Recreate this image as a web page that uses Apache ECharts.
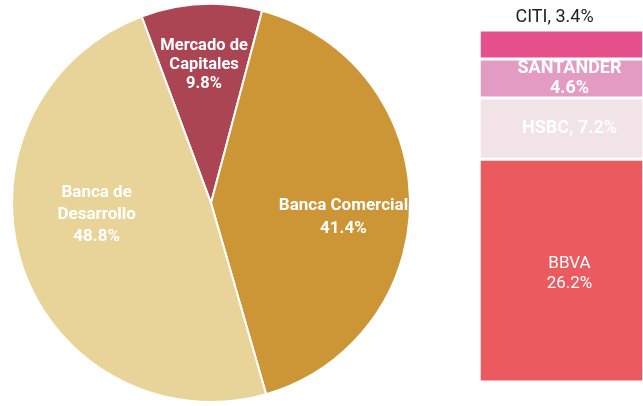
<!DOCTYPE html>
<html><head><meta charset="utf-8">
<script src="https://cdn.jsdelivr.net/npm/echarts@6/dist/echarts.min.js"></script>
<style>html,body{margin:0;padding:0;background:#fff}#c{width:643px;height:406px}</style>
</head><body><div id="c"></div>
<script>
// Data
const pieCategories = ['Mercado de\nCapitales', 'Banca Comercial', 'Banca de\nDesarrollo'];
const pieValues = [9.8, 41.4, 48.8];
const bankCategories = ['BBVA', 'HSBC', 'SANTANDER', 'CITI'];
const bankValues = [26.2, 7.2, 4.6, 3.4];

// Styles
const pieColors = ['#ab4453', '#cc9535', '#e8d398'];
const pieLabelOffsets = [[-2, -36], [30, 15], [-17, -20]];
const pieLabelSizes = [16.5, 17, 17];
const pieLabelLineHeights = [19, 23, 22];
const bankColors = ['#ea5a5e', '#f1e3e7', '#e39bc3', '#e5508b'];
const bankLabelSeps = ['\n', ', ', '\n', ', '];
const bankLabelOffsets = [[8, 3], [8, 0], [8, 0], [-7, 0]];
const bankLabelSizes = [17, 18, 18, 18];
const FONT = 'Roboto, "Noto Sans", sans-serif';

const chart = echarts.init(document.getElementById('c'), null, {renderer: 'canvas'});

const bankTotal = bankValues.reduce((a, b) => a + b, 0);

const barSeries = bankCategories.map((name, i) => {
  const isTop = i === bankCategories.length - 1;
  return {
    type: 'bar',
    name: name,
    stack: 'banks',
    barWidth: 180,
    data: [bankValues[i]],
    itemStyle: {color: bankColors[i], borderColor: '#fff', borderWidth: 1.5},
    label: isTop ? {
      show: true, position: 'top', distance: 4, offset: bankLabelOffsets[i],
      color: '#222', fontFamily: FONT, fontSize: bankLabelSizes[i], fontWeight: 400,
      formatter: () => name + bankLabelSeps[i] + bankValues[i].toFixed(1) + '%'
    } : {
      show: true, position: 'inside', offset: bankLabelOffsets[i],
      color: '#fff', fontFamily: FONT, fontSize: bankLabelSizes[i],
      fontWeight: i === 0 ? 400 : 700, lineHeight: 20,
      formatter: () => name + bankLabelSeps[i] + bankValues[i].toFixed(1) + '%'
    },
    emphasis: {disabled: true}
  };
});

chart.setOption({
  animation: false,
  backgroundColor: '#fff',
  grid: {left: 480, top: 30, width: 180, height: 352},
  xAxis: {type: 'category', data: ['Banca Comercial'], show: false},
  yAxis: {type: 'value', min: 0, max: bankTotal, show: false},
  series: [
    {
      type: 'pie',
      center: [211, 203],
      radius: 199,
      startAngle: 110.4,
      clockwise: true,
      avoidLabelOverlap: false,
      itemStyle: {borderColor: '#fff', borderWidth: 2},
      label: {
        show: true, position: 'inside',
        color: '#fff', fontFamily: FONT, fontWeight: 700,
        formatter: p => p.name + '\n' + p.value.toFixed(1) + '%'
      },
      labelLine: {show: false},
      labelLayout: p => ({dx: pieLabelOffsets[p.dataIndex][0], dy: pieLabelOffsets[p.dataIndex][1]}),
      emphasis: {disabled: true},
      data: pieCategories.map((n, i) => ({
        name: n, value: pieValues[i],
        itemStyle: {color: pieColors[i]},
        label: {fontSize: pieLabelSizes[i], lineHeight: pieLabelLineHeights[i]}
      }))
    },
    ...barSeries
  ]
});
</script></body></html>
